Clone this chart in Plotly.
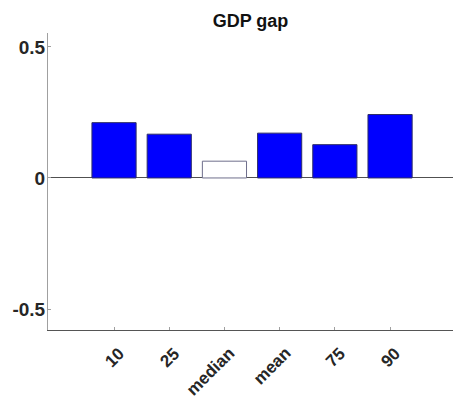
import plotly.graph_objects as go

# GDP gap by distribution statistic
categories = ["10", "25", "median", "mean", "75", "90"]
gdp_gap = [0.211, 0.167, 0.064, 0.171, 0.127, 0.242]
y_ticks = [-0.5, 0, 0.5]
y_tick_labels = ["-0.5", "0", "0.5"]

positions = list(range(1, len(categories) + 1))
fills = ["white" if c == "median" else "#0000FF" for c in categories]
edges = ["#6E6E8C" if c == "median" else "#2E2E66" for c in categories]

fig = go.Figure(
    go.Bar(
        x=positions,
        y=gdp_gap,
        width=0.8,
        marker=dict(color=fills, line=dict(color=edges, width=1)),
    )
)

font_family = "Liberation Sans, Arial, sans-serif"

# rotated category labels, set off to the lower right of each tick
for pos, cat in zip(positions, categories):
    fig.add_annotation(
        x=pos,
        xref="x",
        y=0,
        yref="paper",
        text=f"<b>{cat}</b>",
        textangle=-45,
        showarrow=False,
        xanchor="right",
        yanchor="top",
        xshift=17,
        yshift=-11,
        font=dict(family=font_family, size=17, color="#262626"),
    )

fig.update_layout(
    width=453,
    height=398,
    margin=dict(l=48, r=0, t=33, b=68),
    paper_bgcolor="white",
    plot_bgcolor="white",
    showlegend=False,
    title=dict(
        text="<b>GDP gap</b>",
        xref="paper",
        x=0.5,
        xanchor="center",
        yref="container",
        y=1 - 21 / 398,
        yanchor="middle",
        font=dict(family=font_family, size=18, color="#111111"),
    ),
    xaxis=dict(
        range=[-0.196, 7.14],
        tickmode="array",
        tickvals=positions,
        showticklabels=False,
        ticks="inside",
        ticklen=3,
        tickcolor="#A0A0A0",
        showline=True,
        linecolor="#555555",
        linewidth=1,
        showgrid=False,
        zeroline=False,
    ),
    yaxis=dict(
        range=[-0.580, 0.553],
        tickmode="array",
        tickvals=y_ticks,
        ticktext=[f"<b>{t}</b>" for t in y_tick_labels],
        ticks="inside",
        ticklen=3,
        tickcolor="#A0A0A0",
        ticklabelstandoff=-2,
        showline=True,
        linecolor="#A0A0A0",
        linewidth=1,
        showgrid=False,
        zeroline=True,
        zerolinecolor="#505050",
        zerolinewidth=1,
        tickfont=dict(family=font_family, size=19, color="#262626"),
    ),
)

fig.write_html("out.html")
